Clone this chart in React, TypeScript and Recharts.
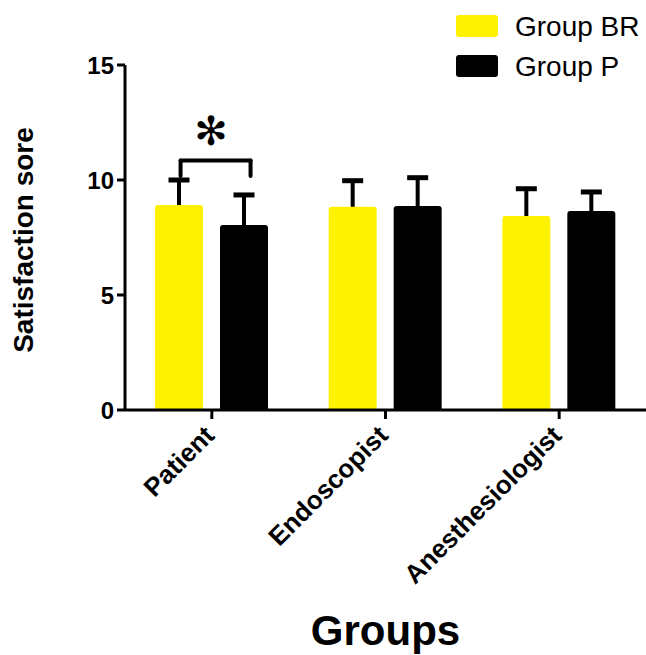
import React from 'react';
import { BarChart, Bar, XAxis, YAxis, Legend, ReferenceLine, ReferenceDot } from 'recharts';

const categories = ['Patient', 'Endoscopist', 'Anesthesiologist'];
const categoryPos = [0.5, 1.5, 2.5];
const seriesNames = ['Group BR', 'Group P'];
const groupBR = [8.91, 8.84, 8.43];
const groupP = [8.04, 8.87, 8.65];
const groupBRErr = [1.09, 1.13, 1.19];
const groupPErr = [1.31, 1.23, 0.83];
const yTicks = [0, 5, 10, 15];
// significance bracket (numeric x in category-index space 0..3)
const bracketX = [0.32, 0.723];
const bracketY = [10.17, 10.85];
const starX = 0.495;
const starY = 12.13;
const starLabel = '✻';
const xTitle = 'Groups';
const yTitle = 'Satisfaction sore';

const data = categories.map((c, i) => ({
  name: c,
  pos: categoryPos[i],
  br: groupBR[i],
  p: groupP[i],
  brErr: groupBRErr[i],
  pErr: groupPErr[i],
}));

const FONT = '"Liberation Sans", Arial, Helvetica, sans-serif';

const makeShape = (fill: string, valKey: string, errKey: string) => (props: any) => {
  const { x, y, width, height, payload } = props;
  const v = payload[valKey];
  const pxPerUnit = height / v;
  const errPx = payload[errKey] * pxPerUnit;
  const cx = x + width / 2;
  const r = 3;
  const top = y - errPx;
  const d = `M${x},${y + height} L${x},${y + r} Q${x},${y} ${x + r},${y} L${x + width - r},${y} Q${x + width},${y} ${x + width},${y + r} L${x + width},${y + height} Z`;
  return (
    <g>
      <rect x={cx - 2} y={top} width={4} height={errPx + 3} fill="#000" />
      <rect x={cx - 10.5} y={top - 2.5} width={21} height={5} fill="#000" />
      <path d={d} fill={fill} />
    </g>
  );
};

const XTick = (props: any) => {
  const { x, y, payload } = props;
  return (
    <g transform={`translate(${x + 4},${y + 16})`}>
      <text
        textAnchor="end"
        transform="rotate(-45)"
        fontSize={26}
        fontWeight="bold"
        fontFamily={FONT}
        fill="#000"
      >
        {payload.value}
      </text>
    </g>
  );
};

const YTick = (props: any) => {
  const { x, y, payload } = props;
  return (
    <text
      x={x}
      y={y}
      dy="0.36em"
      textAnchor="end"
      fontSize={24}
      fontWeight="bold"
      fontFamily={FONT}
      fill="#000"
    >
      {payload.value}
    </text>
  );
};

const renderLegend = (props: any) => {
  const { payload } = props;
  return (
    <svg width={646} height={90} style={{ display: 'block' }}>
      {(payload || []).map((entry: any, i: number) => (
        <g key={i}>
          <rect x={456} y={15 + i * 40} width={42} height={22} rx={3} fill={entry.color} />
          <text x={515} y={36 + i * 40} fontSize={28} fontFamily={FONT} fill="#000">
            {entry.value}
          </text>
        </g>
      ))}
    </svg>
  );
};

const bracketSegments = [
  [{ x: bracketX[0], y: bracketY[0] }, { x: bracketX[0], y: bracketY[1] }],
  [{ x: bracketX[0], y: bracketY[1] }, { x: bracketX[1], y: bracketY[1] }],
  [{ x: bracketX[1], y: bracketY[1] }, { x: bracketX[1], y: bracketY[0] }],
];

export default function App() {
  return (
    <div style={{ position: 'absolute', left: 0, top: 0, width: 646, height: 655, background: '#fff' }}>
      <BarChart
        width={646}
        height={655}
        data={data}
        margin={{ top: 65, right: 0, left: 0, bottom: 0 }}
        barSize={48}
        barGap={17}
      >
        <XAxis
          dataKey="name"
          height={245}
          tickSize={9}
          tickMargin={2}
          axisLine={{ stroke: '#000', strokeWidth: 3 }}
          tickLine={{ stroke: '#000', strokeWidth: 3 }}
          tick={<XTick />}
          interval={0}
          label={(p: any) => {
            const vb = p.viewBox || {};
            return (
              <text
                x={vb.x + vb.width / 2}
                y={645}
                textAnchor="middle"
                fontSize={42}
                fontWeight="bold"
                fontFamily={FONT}
                fill="#000"
              >
                {xTitle}
              </text>
            );
          }}
        />
        <XAxis
          xAxisId="num"
          dataKey="pos"
          type="number"
          domain={[0, 3]}
          hide
          allowDataOverflow
          padding={{ left: 0, right: 0 }}
        />
        <YAxis
          domain={[0, 15]}
          ticks={yTicks}
          width={125}
          tickSize={8}
          tickMargin={3}
          axisLine={{ stroke: '#000', strokeWidth: 3 }}
          tickLine={{ stroke: '#000', strokeWidth: 3 }}
          tick={<YTick />}
          interval={0}
          label={() => (
            <text
              x={0}
              y={0}
              transform="translate(33,240) rotate(-90)"
              textAnchor="middle"
              fontSize={28}
              fontWeight="bold"
              fontFamily={FONT}
              fill="#000"
            >
              {yTitle}
            </text>
          )}
        />
        <Legend
          layout="vertical"
          verticalAlign="middle"
          align="center"
          content={renderLegend}
          wrapperStyle={{ position: 'absolute', top: 0, left: 0, width: 646, height: 90 }}
        />
        <Bar
          dataKey="br"
          name={seriesNames[0]}
          fill="#FFF200"
          isAnimationActive={false}
          shape={makeShape('#FFF200', 'br', 'brErr')}
        />
        <Bar
          dataKey="p"
          name={seriesNames[1]}
          fill="#000000"
          isAnimationActive={false}
          shape={makeShape('#000000', 'p', 'pErr')}
        />
        {bracketSegments.map((seg, i) => (
          <ReferenceLine
            key={i}
            xAxisId="num"
            segment={seg}
            stroke="#000"
            strokeWidth={4}
            strokeLinecap="round"
          />
        ))}
        <ReferenceDot
          xAxisId="num"
          x={starX}
          y={starY}
          r={0}
          shape={(p: any) => (
            <text
              x={p.cx}
              y={p.cy}
              dy="0.36em"
              textAnchor="middle"
              fontSize={40}
              fontFamily='"DejaVu Sans", sans-serif'
              fill="#000"
            >
              {starLabel}
            </text>
          )}
        />
      </BarChart>
    </div>
  );
}
